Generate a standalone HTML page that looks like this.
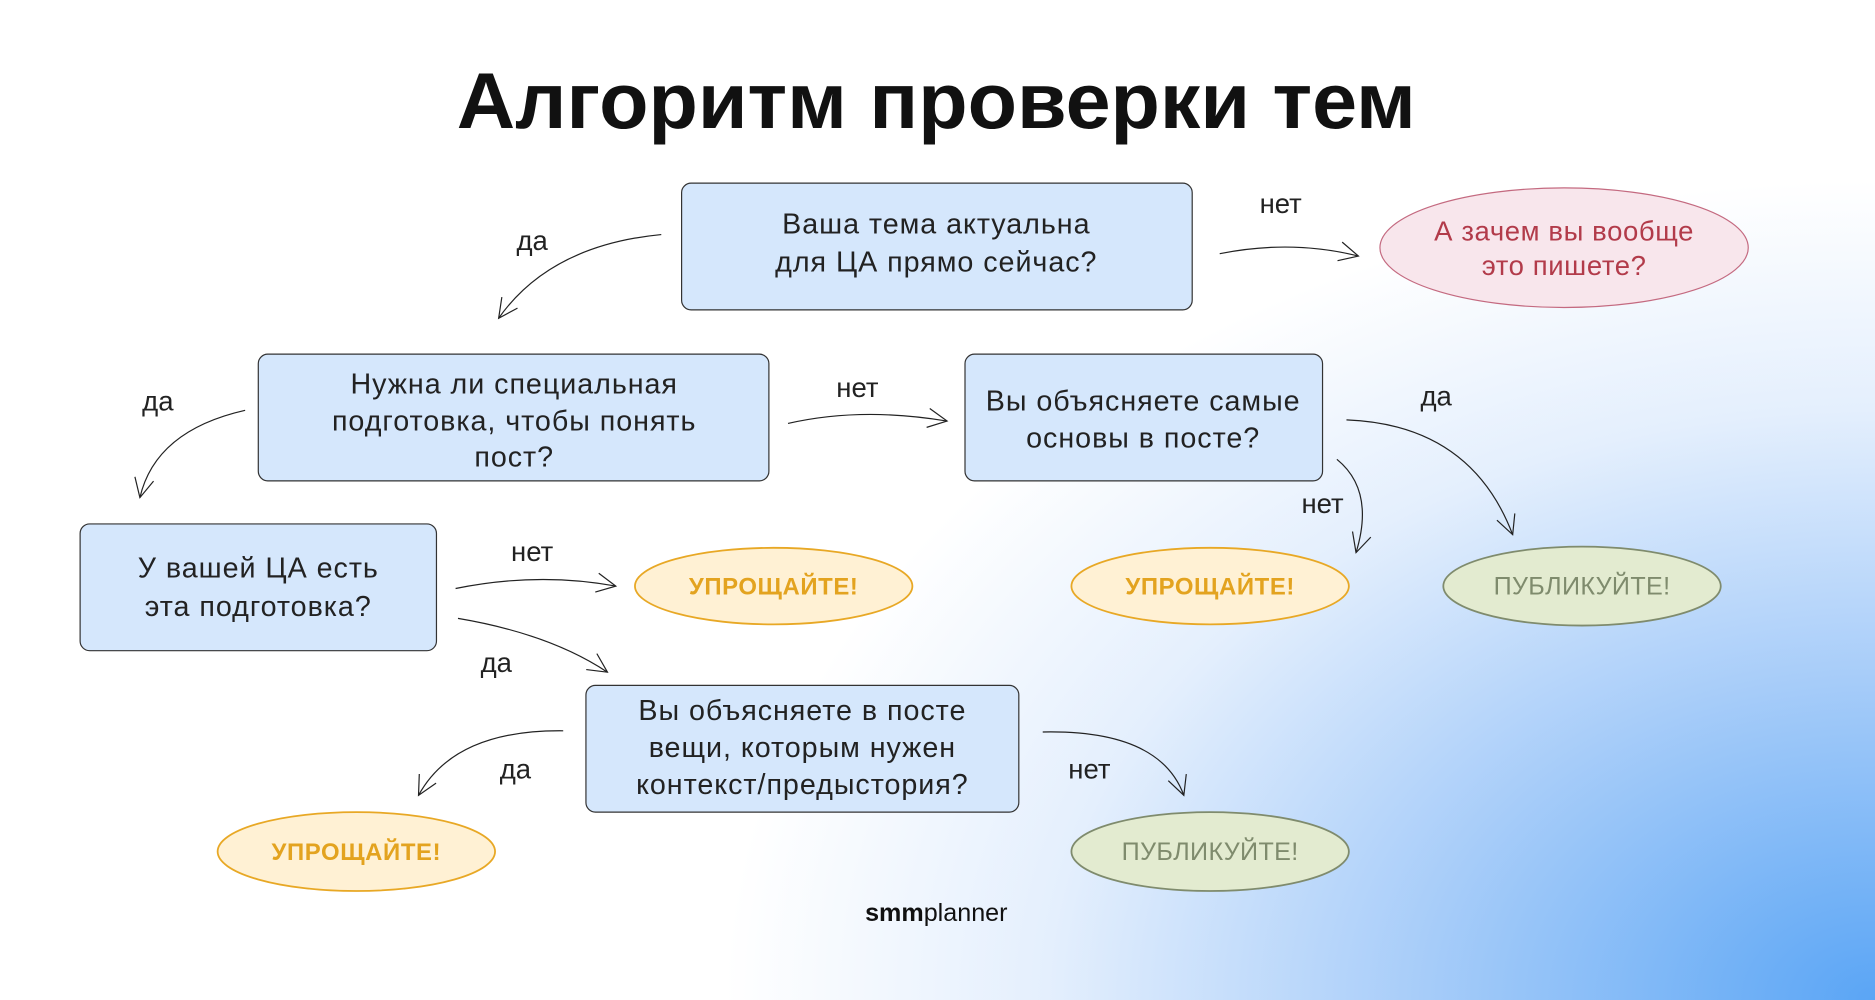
<!DOCTYPE html>
<html><head><meta charset="utf-8"><style>
html,body{margin:0;padding:0}
body{width:1875px;height:1000px;overflow:hidden;background:radial-gradient(ellipse 1150px 820px at 1875px 1000px,#5aa5f5 0%,#a8cdf9 40%,#e4effd 72%,#ffffff 100%);font-family:"Liberation Sans",sans-serif}
svg{display:block}
</style></head><body>
<svg width="1875" height="1000" viewBox="0 0 1568 836" xmlns="http://www.w3.org/2000/svg" font-family="Liberation Sans, sans-serif">
<defs>
<marker id="a" viewBox="0 0 20 20" refX="18" refY="10" markerWidth="20" markerHeight="20" markerUnits="userSpaceOnUse" orient="auto">
<path d="M2,2 L18,10 L2,18" fill="none" stroke="#222" stroke-width="1"/>
</marker>
</defs>
<text x="783" y="107" text-anchor="middle" font-size="66" font-weight="bold" fill="#111" textLength="802" lengthAdjust="spacingAndGlyphs">Алгоритм проверки тем</text>
<g fill="#d5e7fc" stroke="#333" stroke-width="1">
<rect x="570" y="153" width="427" height="106" rx="8"/>
<rect x="216" y="296" width="427" height="106" rx="8"/>
<rect x="807" y="296" width="299" height="106" rx="8"/>
<rect x="67" y="438" width="298" height="106" rx="8"/>
<rect x="490" y="573" width="362" height="106" rx="8"/>
</g>
<g font-size="24" fill="#222" text-anchor="middle" letter-spacing="0.8">
<text x="783" y="195">Ваша тема актуальна</text><text x="783" y="227">для ЦА прямо сейчас?</text>
<text x="430" y="329">Нужна ли специальная</text><text x="430" y="360">подготовка, чтобы понять</text><text x="430" y="390">пост?</text>
<text x="956" y="343">Вы объясняете самые</text><text x="956" y="374">основы в посте?</text>
<text x="216" y="483">У вашей ЦА есть</text><text x="216" y="515">эта подготовка?</text>
<text x="671" y="602">Вы объясняете в посте</text><text x="671" y="633">вещи, которым нужен</text><text x="671" y="664">контекст/предыстория?</text>
</g>
<ellipse cx="1308" cy="207" rx="154" ry="50" fill="#f8e6ec" stroke="#c46a80" stroke-width="1"/>
<g font-size="23" fill="#b23b4a" text-anchor="middle" letter-spacing="0.5"><text x="1308" y="201">А зачем вы вообще</text><text x="1308" y="230">это пишете?</text></g>
<g fill="#fff1d4" stroke="#e8a825" stroke-width="1.5">
<ellipse cx="647" cy="490" rx="116" ry="32"/><ellipse cx="1012" cy="490" rx="116" ry="32"/><ellipse cx="298" cy="712" rx="116" ry="33"/>
</g>
<g fill="#e3ebd0" stroke="#7f8b6d" stroke-width="1.5">
<ellipse cx="1323" cy="490" rx="116" ry="33"/><ellipse cx="1012" cy="712" rx="116" ry="33"/>
</g>
<g font-size="20" font-weight="bold" fill="#e3a31f" text-anchor="middle" letter-spacing="0.5">
<text x="647" y="497">УПРОЩАЙТЕ!</text><text x="1012" y="497">УПРОЩАЙТЕ!</text><text x="298" y="719">УПРОЩАЙТЕ!</text>
</g>
<g font-size="21" fill="#7f8b6d" text-anchor="middle" letter-spacing="0.3">
<text x="1323" y="497">ПУБЛИКУЙТЕ!</text><text x="1012" y="719">ПУБЛИКУЙТЕ!</text>
</g>
<g font-size="23" fill="#222" text-anchor="middle">
<text x="445" y="209">да</text><text x="1071" y="178">нет</text><text x="132" y="343">да</text><text x="717" y="332">нет</text>
<text x="1201" y="339">да</text><text x="1106" y="429">нет</text><text x="445" y="469">нет</text><text x="415" y="562">да</text>
<text x="431" y="651">да</text><text x="911" y="651">нет</text>
</g>
<g fill="none" stroke="#222" stroke-width="1" marker-end="url(#a)">
<path d="M553,196 Q460,205 417,266"/>
<path d="M1020,212 Q1080,200 1136,214"/>
<path d="M205,343 Q130,360 117,416"/>
<path d="M659,354 Q720,340 792,352"/>
<path d="M1126,351 Q1230,355 1265,447"/>
<path d="M1118,384 Q1150,410 1134,462"/>
<path d="M381,492 Q450,478 515,490"/>
<path d="M383,517 Q460,530 508,562"/>
<path d="M471,611 Q380,610 350,665"/>
<path d="M872,612 Q970,610 990,665"/>
</g>
<text x="783" y="770" text-anchor="middle" font-size="21" fill="#111"><tspan font-weight="bold">smm</tspan>planner</text>
</svg>
</body></html>
